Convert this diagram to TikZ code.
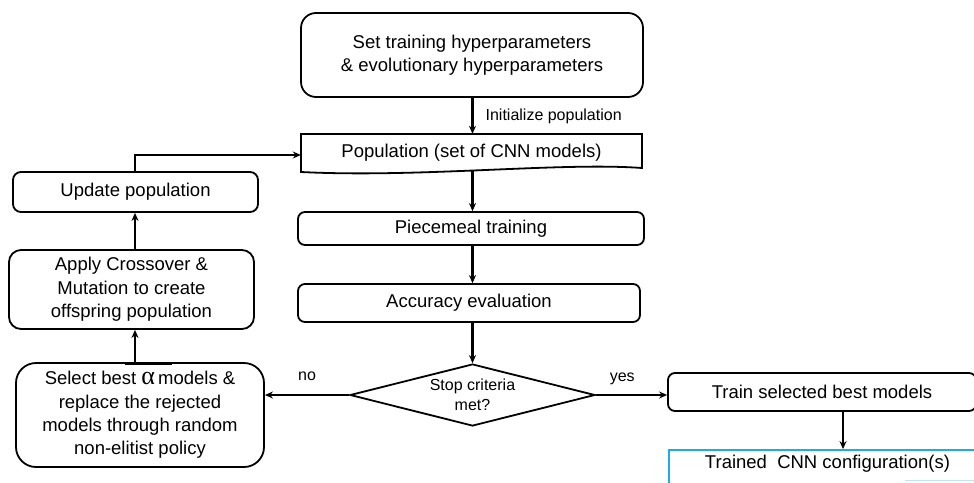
\documentclass[tikz,border=0pt]{standalone}
\usepackage{fontspec}
\setmainfont{Liberation Sans}
\newfontfamily\alphafont{Liberation Serif}
\usetikzlibrary{arrows.meta,shapes.geometric}
\definecolor{cfgblue}{RGB}{30,170,238}
\definecolor{fadeblue}{RGB}{190,228,248}
\tikzset{
  box/.style={draw=black, line width=1.8pt, rounded corners=#1, align=center,
    font=\fontsize{18.5}{23.3}\selectfont, inner sep=0pt},
  box/.default=7pt,
  txt/.style={align=center, font=\fontsize{18.5}{23.3}\selectfont, inner sep=0pt},
  lbl/.style={font=\fontsize{16}{19}\selectfont, inner sep=0pt},
  arr/.style={line width=2.2pt, -{Stealth[length=8pt,width=7pt]}},
}
\begin{document}
\begin{tikzpicture}[x=1pt,y=-1pt]
\useasboundingbox (0,0) rectangle (974,482);

% main column
\node[box=15pt, minimum width=342pt, minimum height=84pt] (top) at (472,55)
  {Set training hyperparameters\\\& evolutionary hyperparameters};

\node[txt, minimum width=341pt, minimum height=38pt] (pop) at (471.5,153)
  {Population (set of CNN models)};
\draw[line width=1.8pt, line join=miter]
  (301,134) -- (642,134) -- (642,168)
  .. controls (560,162) and (420,178) .. (301,172) -- cycle;

\node[box, minimum width=346pt, minimum height=33pt] (piece) at (471,228.5)
  {Piecemeal training};
\node[box, minimum width=342pt, minimum height=38pt] (acc) at (469,303)
  {Accuracy evaluation};

\node[draw, line width=1.8pt, shape=diamond, minimum width=245pt,
  minimum height=62pt, inner sep=0pt] (dec) at (472.5,395) {};
\node[align=center, font=\fontsize{16}{19.5}\selectfont, inner sep=0pt]
  (dectxt) at (472.5,395) {Stop criteria\\met?};

\node[box, minimum width=308pt, minimum height=38pt] (train) at (822,392)
  {Train selected best models};

\node[draw=cfgblue, line width=1.8pt, minimum width=320pt, minimum height=44pt,
  inner sep=0pt] (trained) at (829,472) {};
\node[txt] (trainedtxt) at (827.5,463.5) {Trained\ \ CNN configuration(s)};
\draw[fadeblue, line width=1.2pt] (905,480.5) -- (974,480.5);

% left column
\node[box=8pt, minimum width=245pt, minimum height=40pt] (update) at (135.5,192)
  {Update population};
\node[box=12pt, minimum width=245pt, minimum height=79pt] (apply) at (131.5,289.5)
  {Apply Crossover \&\\Mutation to create\\offspring population};
\node[box=20pt, minimum width=248pt, minimum height=104pt] (select) at (140,415)
  {Select best {\alphafont\fontsize{26}{23.3}\selectfont α}\,models \&\\replace the rejected\\models through random\\non-elitist policy};
\draw[line width=3.4pt] (125,363.5) -- (172,363.5);

% column x coordinates
\coordinate (cx) at (472.5,0);
\coordinate (lx) at (135,0);
\coordinate (rx) at (843,0);

% connectors
\draw[arr] (top.south -| cx) -- (pop.north -| cx)
  node[lbl, anchor=west, pos=0.5, xshift=12pt, yshift=-1pt] (init) {Initialize population};
\draw[arr] (cx |- 170,170) -- (piece.north -| cx);
\draw[arr] (piece.south -| cx) -- (acc.north -| cx);
\draw[arr] (acc.south -| cx) -- (dec.north);
\draw[arr] (dec.west) -- (dec.west -| select.east)
  node[lbl, pos=0.5, yshift=19pt] (no) {no};
\draw[arr] (dec.east) -- (dec.east -| train.west)
  node[lbl, pos=0.37, yshift=16pt] (yes) {yes};
\draw[arr] (train.south -| rx) -- (trained.north -| rx);
\draw[arr] (select.north -| lx) -- (apply.south -| lx);
\draw[arr] (apply.north -| lx) -- (update.south -| lx);
\draw[arr] (update.north -| lx) -- (lx |- 155,155) -- (pop.west |- 155,155);
\end{tikzpicture}
\end{document}
